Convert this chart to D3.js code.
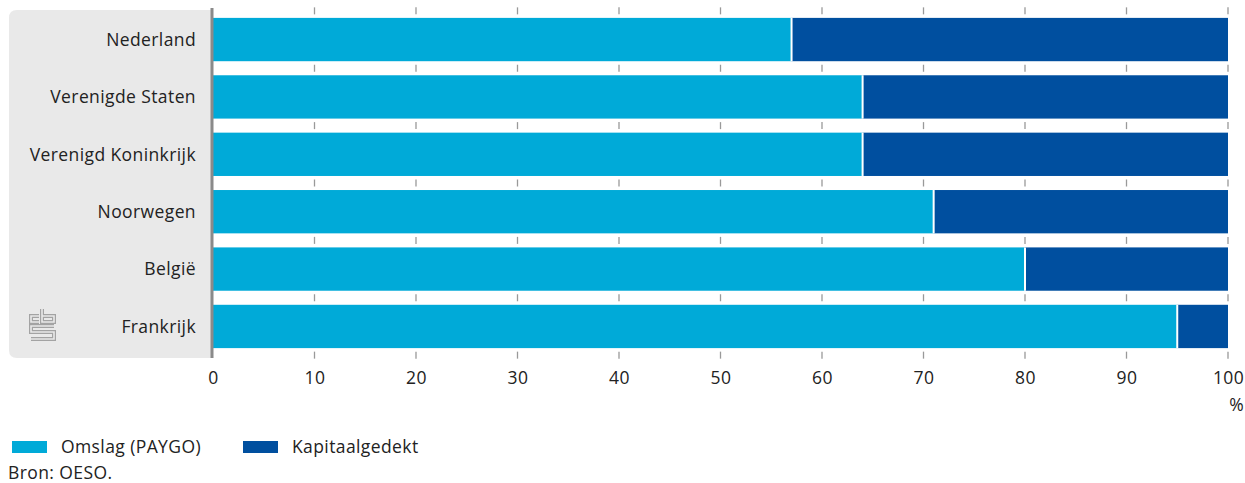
<!DOCTYPE html>
<html><head><meta charset="utf-8">
<script src="https://cdn.jsdelivr.net/npm/d3@7"></script>
<style>body{margin:0;background:#fff;}svg{display:block;font-family:"Open Sans","Noto Sans",sans-serif;}text{letter-spacing:0.4px;}</style>
</head><body><svg id="c" width="1245" height="483"></svg>
<script>
const categories = ["Nederland","Verenigde Staten","Verenigd Koninkrijk","Noorwegen","België","Frankrijk"];
const paygo = [57,64,64,71,80,95];
const kapitaal = [43,36,36,29,20,5];
const seriesNames = ["Omslag (PAYGO)","Kapitaalgedekt"];
const colors = ["#00aad8","#004f9f"];
const ticks = [0,10,20,30,40,50,60,70,80,90,100];

const FS = 17.5;
const svg = d3.select("#c");
const x = d3.scaleLinear().domain([0,100]).range([213,1228]);
const y = d3.scaleBand().domain(categories).range([11,355]).paddingInner(0.245).paddingOuter(0.12);

// panel
svg.append("path").attr("fill","#e9e9e9")
  .attr("d","M213,10 L17,10 Q9,10 9,18 L9,350 Q9,358 17,358 L213,358 Z");

// tick marks (in gaps)
const step = y.step(), bw = y.bandwidth();
const gapYs = categories.map(c=>y(c)-(step-bw)/2);
gapYs.push(y(categories[categories.length-1])+bw+(step-bw)/2);
ticks.slice(1).forEach(t=>{
  gapYs.forEach(gy=>{
    svg.append("line").attr("x1",x(t)).attr("x2",x(t)).attr("y1",gy-3.5).attr("y2",gy+3.5)
      .attr("stroke","#999").attr("stroke-width",1.3);
  });
});

// bars
const stack = categories.map((c,i)=>({c, parts:[[0,paygo[i]],[paygo[i],paygo[i]+kapitaal[i]]]}));
stack.forEach(d=>{
  d.parts.forEach((p,j)=>{
    svg.append("rect").attr("x",x(p[0])).attr("y",y(d.c))
      .attr("width",x(p[1])-x(p[0])).attr("height",bw).attr("fill",colors[j]);
  });
  svg.append("line").attr("x1",x(d.parts[0][1])).attr("x2",x(d.parts[0][1]))
    .attr("y1",y(d.c)).attr("y2",y(d.c)+bw).attr("stroke","#fff").attr("stroke-width",2);
});

// left axis line
svg.append("line").attr("x1",212).attr("x2",212).attr("y1",8).attr("y2",358)
  .attr("stroke","#8a8a8a").attr("stroke-width",3);

// category labels
svg.selectAll(".cl").data(categories).enter().append("text")
  .attr("x",196).attr("y",d=>y(d)+bw/2).attr("dy","0.36em").attr("text-anchor","end")
  .attr("font-size",FS).attr("fill","#222").text(d=>d);

// x axis
const ax = svg.append("g").attr("transform","translate(0,384)")
  .call(d3.axisBottom(x).tickValues(ticks).tickSize(0).tickPadding(0).tickFormat(d3.format("d")));
ax.select(".domain").remove();
ax.selectAll("text").attr("font-size",FS).attr("fill","#222").attr("font-family","'Open Sans','Noto Sans',sans-serif").attr("dy",0).attr("y",0);
svg.append("text").attr("x",1244).attr("y",411).attr("text-anchor","end").attr("font-size",FS).attr("fill","#222").text("%");

// legend
const lx = [12,243];
seriesNames.forEach((s,i)=>{
  svg.append("rect").attr("x",lx[i]).attr("y",441).attr("width",35).attr("height",12).attr("fill",colors[i]);
  svg.append("text").attr("x",lx[i]+49).attr("y",447).attr("dy","0.36em").attr("font-size",FS).attr("fill","#222").text(s);
});
svg.append("text").attr("x",8).attr("y",479).attr("font-size",FS).attr("fill","#222").text("Bron: OESO.");

// logo (cbs)
const logo = "M39,316 L31,316 L31,322 L39,322 M42,309 L42,322 L54,322 L54,316 L42,316 M54,326 L31,326 L31,332 L54,332 L54,339 L31,339";
const g = svg.append("g").attr("fill","none");
g.append("path").attr("d",logo).attr("stroke","#a3a3a3").attr("stroke-width",4);
g.append("path").attr("d",logo).attr("stroke","#e9e9e9").attr("stroke-width",1.6);
</script></body></html>
